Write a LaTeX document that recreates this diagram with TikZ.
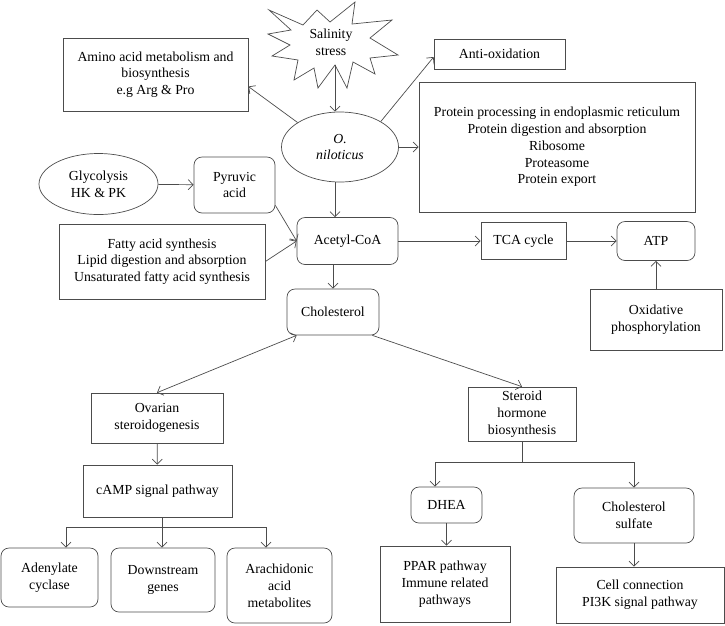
\documentclass[tikz,border=0pt]{standalone}
\usepackage{fontspec}
\setmainfont{Liberation Serif}
\newfontfamily\timesfont{Liberation Serif}
\usetikzlibrary{arrows.meta, shapes.geometric}

\begin{document}
\begin{tikzpicture}[x=1pt, y=-1pt, >={Straight Barb[length=5pt,width=10pt]},
  every node/.style={font=\timesfont\fontsize{13.8}{16.8}\selectfont, align=center, inner sep=2pt},
  box/.style={draw=black!70, line width=0.7pt},
  rbox/.style={box, rounded corners=8pt},
  oval/.style={box, ellipse},
  link/.style={draw=black!70, line width=0.7pt}]
  \useasboundingbox (0,0) rectangle (725,625);

  \draw[box] (355,2) -- (352,24) -- (392,20) -- (370,38) -- (398,55) -- (370,58)
    -- (375,74) -- (353,62) -- (347,88) -- (335,65) -- (318,88) -- (314,68)
    -- (294,80) -- (298,60) -- (272,56) -- (290,45) -- (268,34) -- (291,30)
    -- (269,10) -- (303,25) -- (317,10) -- (330,22) -- cycle;
  \coordinate (starbot) at (335,65);
  \node (salt) at (331,42) {Salinity\\stress};

  \node[oval, minimum width=117pt, minimum height=70pt, font=\timesfont\fontsize{13.8}{16.8}\selectfont\itshape] (nil) at (340,147) {O.\\niloticus};
  \node[box, minimum width=185pt, minimum height=73pt] (amino) at (155.5,74.5) {Amino acid metabolism and\\biosynthesis\\e.g Arg \& Pro};
  \node[box, minimum width=131pt, minimum height=30pt] (anti) at (499.5,54) {Anti-oxidation};
  \node[box, minimum width=276pt, minimum height=130pt] (prot) at (557,147) {Protein processing in endoplasmic reticulum\\Protein digestion and absorption\\Ribosome\\Proteasome\\Protein export};
  \node[oval, minimum width=119pt, minimum height=61pt] (glyco) at (98.5,184) {Glycolysis\\HK \& PK};
  \node[rbox, minimum width=81pt, minimum height=56pt] (pyr) at (234.5,185) {Pyruvic\\acid};
  \node[rbox, minimum width=101pt, minimum height=47pt] (acetyl) at (347.5,241) {Acetyl-CoA};
  \node[box, minimum width=206pt, minimum height=75pt] (fatty) at (162,261.5) {Fatty acid synthesis\\Lipid digestion and absorption\\Unsaturated fatty acid synthesis};
  \node[box, minimum width=85pt, minimum height=37pt] (tca) at (523.5,241) {TCA cycle};
  \node[rbox, minimum width=78pt, minimum height=39pt] (atp) at (656,241) {ATP};
  \node[box, minimum width=132pt, minimum height=61pt] (oxid) at (656,319.5) {Oxidative\\phosphorylation};
  \node[rbox, minimum width=92pt, minimum height=46pt] (chol) at (333,312) {Cholesterol};
  \node[box, minimum width=132pt, minimum height=50pt] (ovar) at (157,418) {Ovarian\\steroidogenesis};
  \node[box, minimum width=149pt, minimum height=52pt] (camp) at (157.5,491) {cAMP signal pathway};
  \node[rbox, minimum width=97pt, minimum height=59pt] (adcy) at (49.5,577.5) {Adenylate\\cyclase};
  \node[rbox, minimum width=104pt, minimum height=64pt] (down) at (163,580) {Downstream\\genes};
  \node[rbox, minimum width=105pt, minimum height=75pt] (arach) at (279.5,585.5) {Arachidonic\\acid\\metabolites};
  \node[box, minimum width=108pt, minimum height=54pt] (ster) at (522,414) {Steroid\\hormone\\biosynthesis};
  \node[rbox, minimum width=71pt, minimum height=36pt] (dhea) at (446.5,505) {DHEA};
  \node[rbox, minimum width=120pt, minimum height=55pt] (csulf) at (634,515.5) {Cholesterol\\sulfate};
  \node[box, minimum width=130pt, minimum height=76pt] (ppar) at (445,584) {PPAR pathway\\Immune related\\pathways};
  \node[box, minimum width=168pt, minimum height=56pt] (cell) at (640,595) {Cell connection\\PI3K signal pathway};

  \draw[link, ->] (starbot) -- (starbot |- nil.north);
  \draw[link, ->] (nil.150) -- ([yshift=-12pt]amino.east);
  \draw[link, ->] (nil.32) -- ([yshift=-3pt]anti.west);
  \draw[link, ->] (nil) -- (prot);
  \draw[link, ->] (glyco) -- (pyr);
  \coordinate (nilbot) at ([xshift=-5pt]nil.south);
  \draw[link, ->] (nilbot) -- (nilbot |- acetyl.north);
  \draw[link, ->] ([yshift=8pt]pyr.south east) -- (acetyl.west);
  \draw[link, ->] (fatty.east) -- (acetyl.west);
  \draw[link, ->] (acetyl) -- (tca);
  \draw[link, ->] (tca) -- (atp);
  \draw[link, ->] (oxid) -- (atp);
  \draw[link, ->] (chol.north |- acetyl.south) -- (chol.north);
  \draw[link, <->] ([xshift=10pt]chol.south west) -- (ovar.north);
  \draw[link, ->] ([xshift=-7pt]chol.south east) -- (ster.north);
  \draw[link, ->] (ovar) -- (camp);
  \draw[link] ([xshift=4.5pt]camp.south) -- ++(0,10) coordinate (cbar);
  \draw[link, ->] (cbar) -| ([xshift=16.5pt]adcy.north);
  \draw[link, ->] (cbar) -- (cbar |- down.north);
  \draw[link, ->] (cbar) -| ([xshift=-13.5pt]arach.north);
  \draw[link] (ster.south) -- ++(0,21) coordinate (sbar);
  \draw[link, ->] (sbar) -| ([xshift=-11.5pt]dhea.north);
  \draw[link, ->] (sbar) -| (csulf.north);
  \draw[link, ->] (dhea.south) -- (dhea.south |- ppar.north);
  \draw[link, ->] (csulf.south) -- (csulf.south |- cell.north);
\end{tikzpicture}
\end{document}
